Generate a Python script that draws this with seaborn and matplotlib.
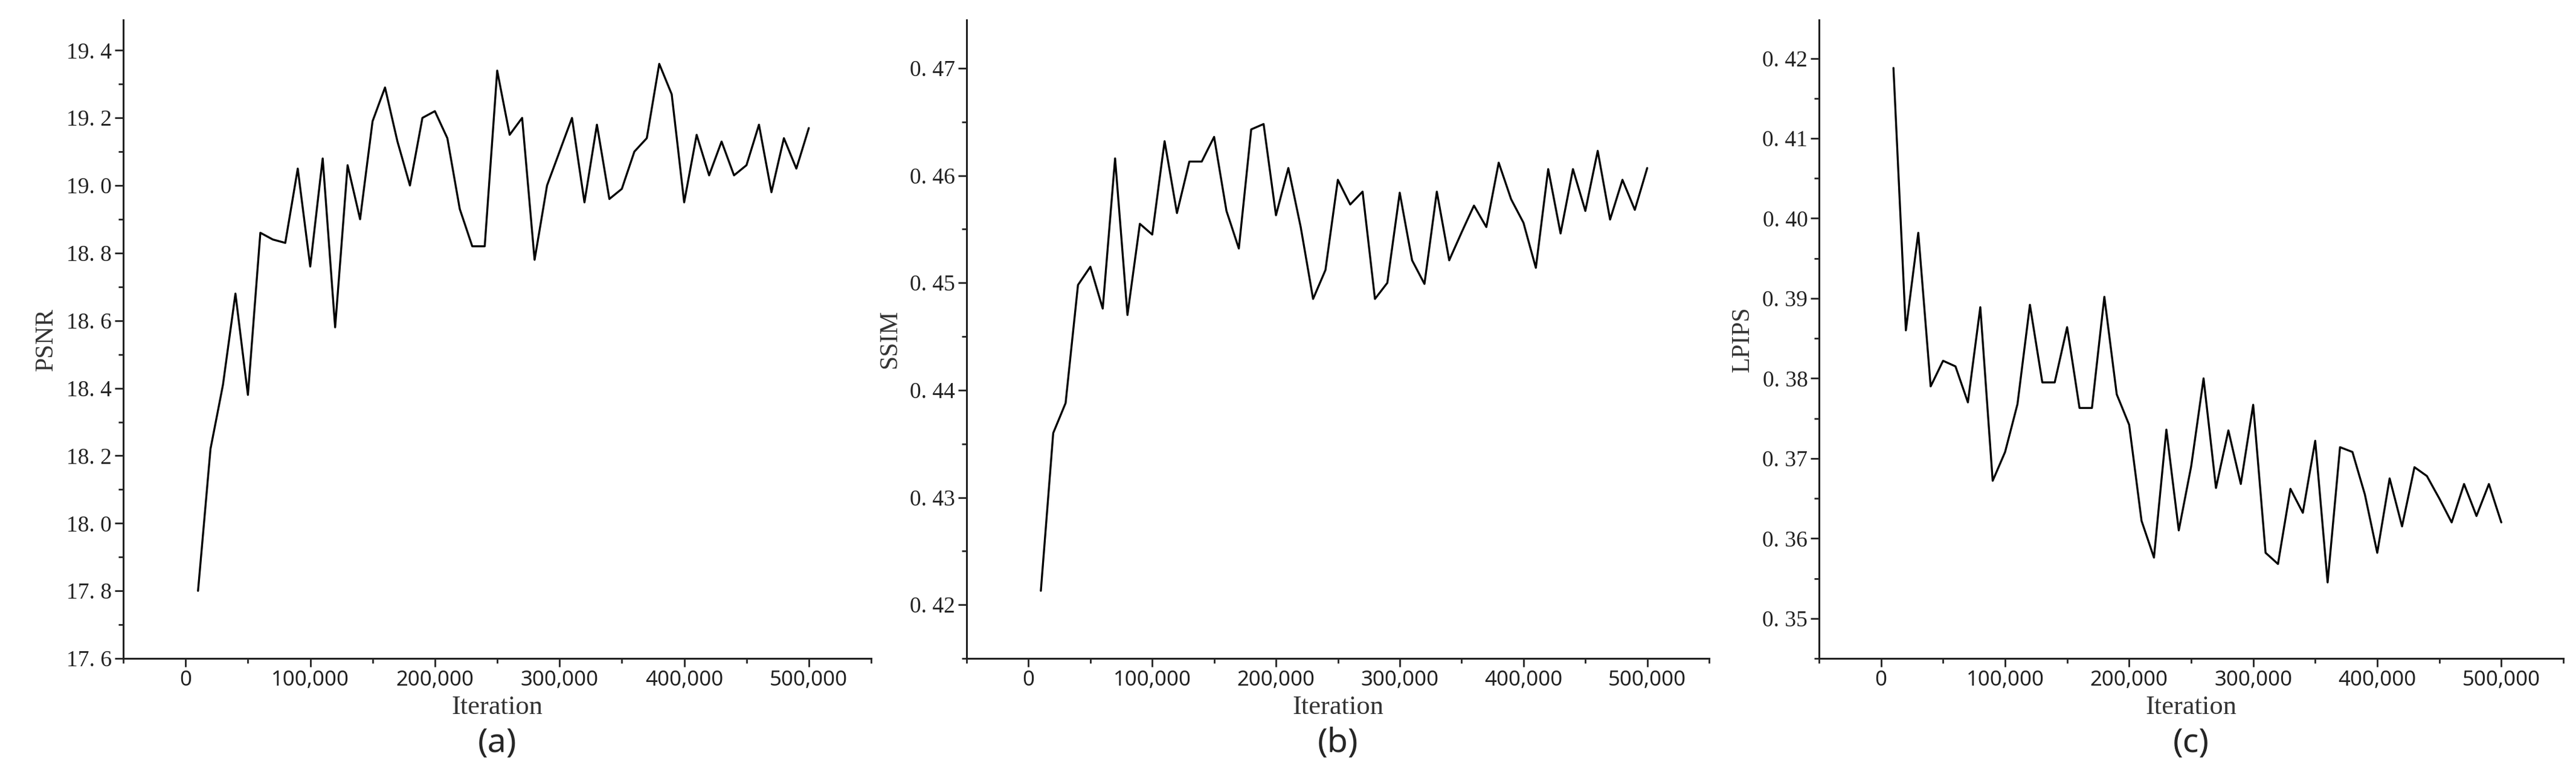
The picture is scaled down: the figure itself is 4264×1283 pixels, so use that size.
import matplotlib
matplotlib.use("Agg")
import matplotlib.pyplot as plt
import seaborn as sns
import numpy as np
import pandas as pd
from matplotlib.ticker import FuncFormatter, MultipleLocator

iterations = list(range(10000, 500001, 10000))
psnr = [17.80, 18.22, 18.41, 18.68, 18.38, 18.86, 18.84, 18.83, 19.05, 18.76,
        19.08, 18.58, 19.06, 18.90, 19.19, 19.29, 19.13, 19.00, 19.20, 19.22,
        19.14, 18.93, 18.82, 18.82, 19.34, 19.15, 19.20, 18.78, 19.00, 19.10,
        19.20, 18.95, 19.18, 18.96, 18.99, 19.10, 19.14, 19.36, 19.27, 18.95,
        19.15, 19.03, 19.13, 19.03, 19.06, 19.18, 18.98, 19.14, 19.05, 19.17]
ssim = [0.4213, 0.4360, 0.4388, 0.4498, 0.4515, 0.4476, 0.4616, 0.4470, 0.4555, 0.4545,
        0.4632, 0.4565, 0.4613, 0.4613, 0.4636, 0.4567, 0.4532, 0.4643, 0.4648, 0.4563,
        0.4607, 0.4552, 0.4485, 0.4512, 0.4596, 0.4573, 0.4585, 0.4485, 0.4500, 0.4584,
        0.4521, 0.4499, 0.4585, 0.4521, 0.4547, 0.4572, 0.4552, 0.4612, 0.4578, 0.4556,
        0.4514, 0.4606, 0.4546, 0.4606, 0.4567, 0.4623, 0.4559, 0.4596, 0.4568, 0.4607]
lpips = [0.4188, 0.3860, 0.3982, 0.3790, 0.3822, 0.3815, 0.3770, 0.3889, 0.3672, 0.3708,
         0.3768, 0.3892, 0.3795, 0.3795, 0.3864, 0.3763, 0.3763, 0.3902, 0.3780, 0.3742,
         0.3622, 0.3576, 0.3736, 0.3610, 0.3690, 0.3800, 0.3663, 0.3735, 0.3668, 0.3767,
         0.3582, 0.3568, 0.3662, 0.3632, 0.3722, 0.3545, 0.3714, 0.3708, 0.3655, 0.3582,
         0.3675, 0.3615, 0.3689, 0.3678, 0.3650, 0.3620, 0.3668, 0.3628, 0.3668, 0.3620]
metric_names = ["PSNR", "SSIM", "LPIPS"]
captions = ["(a)", "(b)", "(c)"]
x_ticks = [0, 100000, 200000, 300000, 400000, 500000]

sns.set_theme(style="ticks")
plt.rcParams['font.family'] = ['Liberation Serif', 'DejaVu Serif']

fig = plt.figure(figsize=(42.64, 12.83), dpi=100)
lefts = [204, 1600, 3011]
rights = [1442, 2829, 4243]
W, H = 4264, 1283
top, bottom = 33, 1090
series = [psnr, ssim, lpips]
ylims = [(17.6, 19.49), (0.415, 0.4745), (0.345, 0.4248)]
ymaj = [0.2, 0.01, 0.01]
fmts = ["{:.1f}", "{:.2f}", "{:.2f}"]

for i in range(3):
    ax = fig.add_axes([lefts[i] / W, 1 - bottom / H, (rights[i] - lefts[i]) / W, (bottom - top) / H])
    df = pd.DataFrame({"Iteration": iterations, metric_names[i]: series[i]})
    sns.lineplot(data=df, x="Iteration", y=metric_names[i], ax=ax, color="black", linewidth=2.4)
    ax.set_xlim(-50000, 550000)
    ax.set_ylim(*ylims[i])
    ax.set_xticks(x_ticks)
    ax.xaxis.set_minor_locator(MultipleLocator(50000))
    ax.yaxis.set_major_locator(MultipleLocator(ymaj[i]))
    ax.yaxis.set_minor_locator(MultipleLocator(ymaj[i] / 2))
    ax.xaxis.set_major_formatter(FuncFormatter(lambda v, p: f"{int(v):,}"))
    f = fmts[i]
    ax.yaxis.set_major_formatter(FuncFormatter(lambda v, p, f=f: f.format(v).replace(".", ". ")))
    ax.tick_params(axis='both', which='major', labelsize=27, length=10, width=2, direction='out', colors='#222222')
    ax.tick_params(axis='both', which='minor', length=6, width=2)
    for lbl in ax.get_xticklabels():
        lbl.set_fontfamily(['Noto Sans', 'DejaVu Sans'])
        lbl.set_fontsize(25)
    for s in ['top', 'right']:
        ax.spines[s].set_visible(False)
    for s in ['left', 'bottom']:
        ax.spines[s].set_linewidth(2.2)
        ax.spines[s].set_color('#222222')
    ax.set_xlabel("Iteration", fontsize=32, labelpad=6, color='#333333')
    ax.set_ylabel(metric_names[i], fontsize=30, labelpad=10, color='#333333')
    cx = (lefts[i] + rights[i]) / 2 / W
    fig.text(cx, 1 - 1230 / H, captions[i], ha='center', va='center',
             fontsize=40, family=['Noto Sans', 'DejaVu Sans'])

fig.savefig("out.png", dpi=100)
